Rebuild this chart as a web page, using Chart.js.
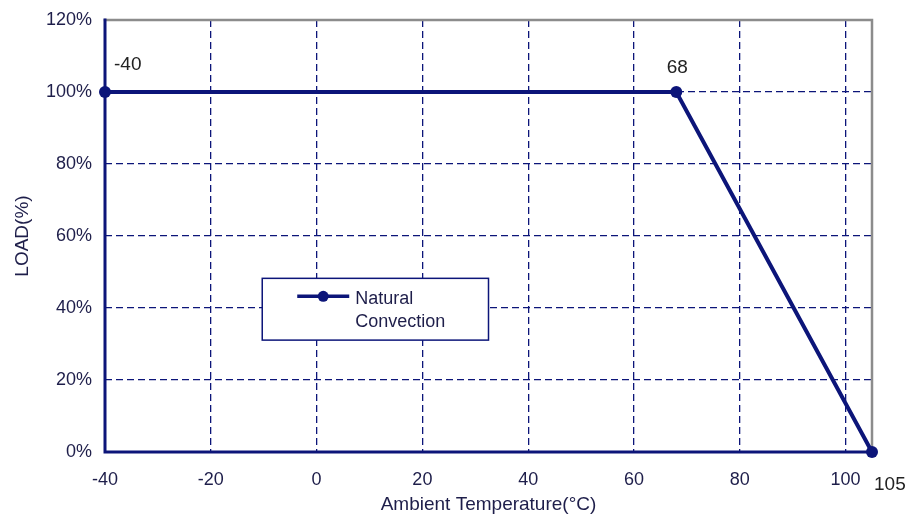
<!DOCTYPE html>
<html>
<head>
<meta charset="utf-8">
<script src="https://cdn.jsdelivr.net/npm/chart.js@4.4.1/dist/chart.umd.min.js"></script>
<style>
  html, body { margin: 0; padding: 0; background: #ffffff; }
  #wrap { width: 911px; height: 518px; }
</style>
</head>
<body>
<div id="wrap"><canvas id="c" width="911" height="518"></canvas></div>
<script>
// ---- data ----
const temperatures = [-40, 68, 105];
const loadPercent = [100, 100, 0];
const pointLabels = ['-40', '68', '105'];
const xTickValues = [-40, -20, 0, 20, 40, 60, 80, 100];
const yTickValues = [0, 20, 40, 60, 80, 100, 120];
const seriesName = 'Natural Convection';
const xAxisTitle = 'Ambient Temperature(\u00B0C)';
const yAxisTitle = 'LOAD(%)';

const NAVY = '#0c1579';
const TEXT = '#1e1e4a';
const FONT = '"Liberation Sans", Arial, sans-serif';

const bgPlugin = {
  id: 'bg',
  beforeDraw(chart) {
    const ctx = chart.ctx;
    ctx.save();
    ctx.fillStyle = '#ffffff';
    ctx.fillRect(0, 0, chart.width, chart.height);
    ctx.restore();
  }
};

const framePlugin = {
  id: 'frame',
  beforeDatasetsDraw(chart) {
    const {ctx, chartArea: a} = chart;
    ctx.save();
    ctx.lineCap = 'square';
    ctx.strokeStyle = '#8c8c8c';
    ctx.lineWidth = 2.5;
    ctx.beginPath();
    ctx.moveTo(a.left, a.top);
    ctx.lineTo(a.right, a.top);
    ctx.lineTo(a.right, a.bottom);
    ctx.stroke();
    ctx.strokeStyle = NAVY;
    ctx.lineWidth = 3;
    ctx.beginPath();
    ctx.moveTo(a.left, a.top);
    ctx.lineTo(a.left, a.bottom);
    ctx.lineTo(a.right, a.bottom);
    ctx.stroke();
    ctx.restore();
  }
};

const labelPlugin = {
  id: 'ptLabels',
  afterDatasetsDraw(chart, args, opts) {
    const ctx = chart.ctx;
    const meta = chart.getDatasetMeta(0);
    ctx.save();
    ctx.font = '19px ' + FONT;
    ctx.fillStyle = '#222222';
    ctx.textBaseline = 'alphabetic';
    meta.data.forEach((pt, i) => {
      const o = opts.offsets[i];
      ctx.textAlign = o.align;
      ctx.fillText(pointLabels[i], pt.x + o.dx, pt.y + o.dy);
    });
    ctx.restore();
  }
};

const legendPlugin = {
  id: 'boxLegend',
  afterDatasetsDraw(chart) {
    const {ctx, chartArea: a} = chart;
    const w = a.right - a.left, h = a.bottom - a.top;
    const bx = a.left + 0.205 * w, by = a.top + 0.598 * h;
    const bw = 0.295 * w, bh = 0.143 * h;
    const ds = chart.data.datasets[0];
    ctx.save();
    ctx.fillStyle = '#ffffff';
    ctx.fillRect(bx, by, bw, bh);
    ctx.strokeStyle = NAVY;
    ctx.lineWidth = 1.5;
    ctx.strokeRect(bx, by, bw, bh);
    const ly = by + 18;
    ctx.strokeStyle = ds.borderColor;
    ctx.lineWidth = 3.5;
    ctx.beginPath();
    ctx.moveTo(bx + 35, ly);
    ctx.lineTo(bx + 87, ly);
    ctx.stroke();
    ctx.fillStyle = ds.borderColor;
    ctx.beginPath();
    ctx.arc(bx + 61, ly, 5.5, 0, Math.PI * 2);
    ctx.fill();
    ctx.font = '18px ' + FONT;
    ctx.fillStyle = TEXT;
    ctx.textAlign = 'left';
    ctx.textBaseline = 'alphabetic';
    const parts = ds.label.split(' ');
    parts.forEach((p, i) => ctx.fillText(p, bx + 93, by + 26 + i * 23));
    ctx.restore();
  }
};

const edgeHidden = (lo, hi) => (c) => {
  const v = c.tick ? c.tick.value : null;
  return (v === lo || v === hi) ? 'rgba(0,0,0,0)' : NAVY;
};

new Chart(document.getElementById('c'), {
  type: 'scatter',
  data: {
    datasets: [{
      label: seriesName,
      data: temperatures.map((t, i) => ({x: t, y: loadPercent[i]})),
      showLine: true,
      borderColor: NAVY,
      backgroundColor: NAVY,
      borderWidth: 4,
      pointRadius: 6,
      pointHoverRadius: 6,
      pointBackgroundColor: NAVY,
      pointBorderWidth: 0,
      clip: false
    }]
  },
  options: {
    responsive: false,
    animation: false,
    events: [],
    layout: { padding: { top: 20, right: 39, left: 0, bottom: 0 } },
    plugins: {
      legend: { display: false },
      tooltip: { enabled: false },
      ptLabels: {
        offsets: [
          {dx: 9, dy: -22, align: 'left'},
          {dx: 1, dy: -19, align: 'center'},
          {dx: 2, dy: 38, align: 'left'}
        ]
      }
    },
    scales: {
      x: {
        type: 'linear',
        min: -40,
        max: 105,
        afterBuildTicks: (s) => { s.ticks = xTickValues.map(v => ({value: v})); },
        afterFit: (s) => { s.height = 66; s.paddingLeft = 0; s.paddingRight = 0; },
        grid: { color: edgeHidden(-40, 105), lineWidth: 1.3, drawTicks: false },
        border: { display: false, dash: [7, 4] },
        ticks: { color: TEXT, font: { family: FONT, size: 18 }, padding: 17, maxRotation: 0, autoSkip: false },
        title: { display: true, text: xAxisTitle, color: TEXT, font: { family: FONT, size: 19 }, padding: { top: 0, bottom: 2 } }
      },
      y: {
        type: 'linear',
        min: 0,
        max: 120,
        afterBuildTicks: (s) => { s.ticks = yTickValues.map(v => ({value: v})); },
        afterFit: (s) => { s.width = 105; s.paddingTop = 0; s.paddingBottom = 0; },
        grid: { color: edgeHidden(0, 120), lineWidth: 1.3, drawTicks: false },
        border: { display: false, dash: [7, 4] },
        ticks: { color: TEXT, font: { family: FONT, size: 18 }, padding: 13, callback: (v) => v + '%' },
        title: { display: true, text: yAxisTitle, color: TEXT, font: { family: FONT, size: 19 }, padding: { top: 11, bottom: 0 } }
      }
    }
  },
  plugins: [bgPlugin, framePlugin, labelPlugin, legendPlugin]
});
</script>
</body>
</html>
